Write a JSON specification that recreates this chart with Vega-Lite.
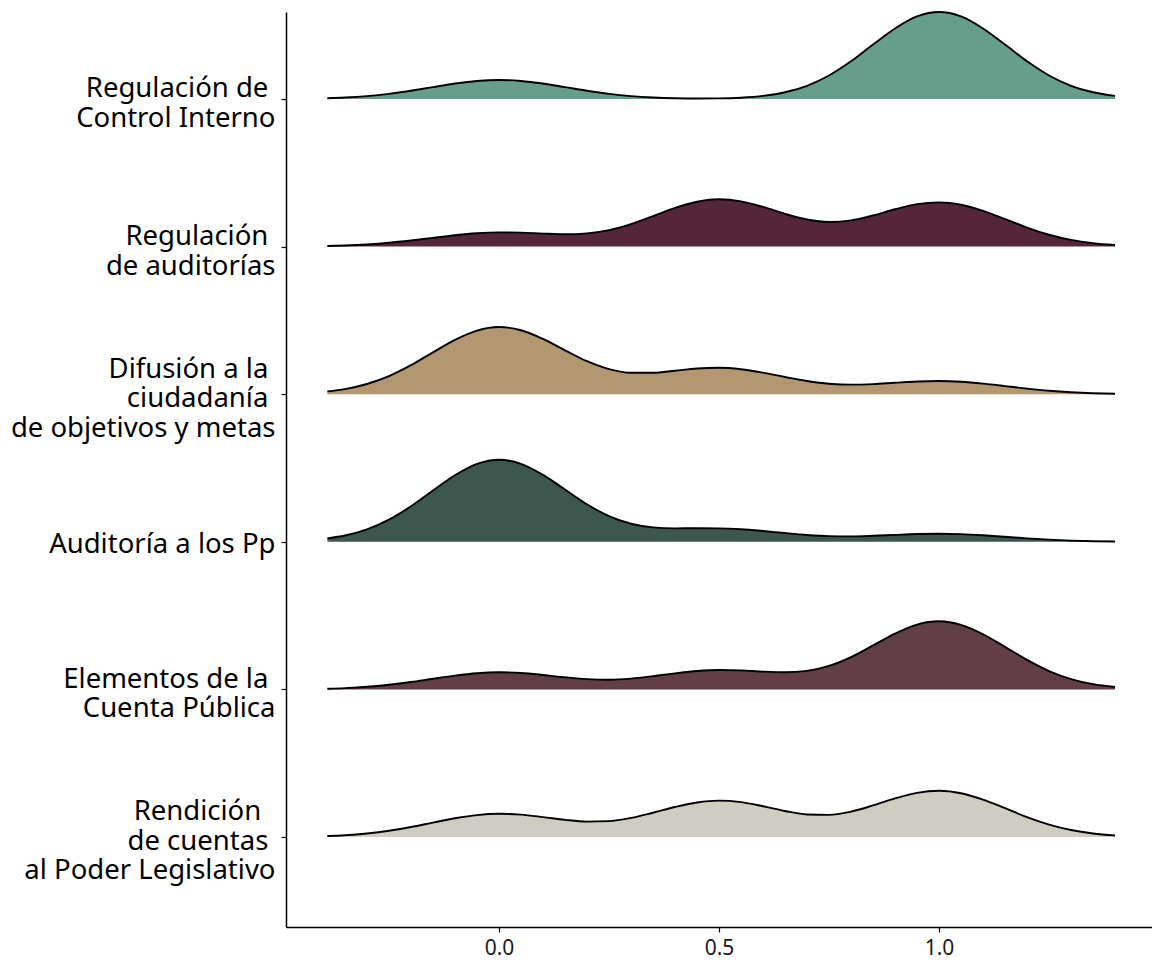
{
  "$schema": "https://vega.github.io/schema/vega-lite/v6.json",
  "width": 866,
  "height": 915,
  "autosize": {"type": "none"},
  "padding": {"left": 286, "top": 12, "right": 0, "bottom": 33},
  "background": "white",
  "config": {
    "font": "Noto Sans",
    "view": {"stroke": null},
    "axis": {"grid": false, "domainColor": "black", "domainWidth": 1.5, "tickColor": "black", "tickWidth": 1.2, "tickSize": 5, "labelColor": "black", "titleColor": "black"}
  },
  "datasets": {
    "cats": [
      {"cat": "Regulación de\u00a0\u2060\nControl Interno"},
      {"cat": "Regulación\u00a0\u2060\nde auditorías"},
      {"cat": "Difusión a la\u00a0\u2060\nciudadanía\u00a0\u2060\nde objetivos y metas"},
      {"cat": "Auditoría a los Pp"},
      {"cat": "Elementos de la\u00a0\u2060\nCuenta Pública"},
      {"cat": "Rendición\u00a0\u00a0\u2060\nde cuentas\u00a0\u2060\nal Poder Legislativo"}
    ],
    "r1": [
      {"x": -0.39, "density": 0.019}, {"x": -0.35, "density": 0.036}, {"x": -0.30, "density": 0.071}, {"x": -0.25, "density": 0.126}, {"x": -0.20, "density": 0.202}, {"x": -0.15, "density": 0.291}, {"x": -0.10, "density": 0.378}, {"x": -0.05, "density": 0.442}, {"x": 0.00, "density": 0.466}, {"x": 0.05, "density": 0.442}, {"x": 0.10, "density": 0.378}, {"x": 0.15, "density": 0.291}, {"x": 0.20, "density": 0.202}, {"x": 0.25, "density": 0.126}, {"x": 0.30, "density": 0.071}, {"x": 0.35, "density": 0.036}, {"x": 0.40, "density": 0.017}, {"x": 0.45, "density": 0.011}, {"x": 0.50, "density": 0.014}, {"x": 0.55, "density": 0.032}, {"x": 0.60, "density": 0.075}, {"x": 0.65, "density": 0.164}, {"x": 0.70, "density": 0.324}, {"x": 0.75, "density": 0.576}, {"x": 0.80, "density": 0.923}, {"x": 0.85, "density": 1.333}, {"x": 0.90, "density": 1.729}, {"x": 0.95, "density": 2.024}, {"x": 1.00, "density": 2.132}, {"x": 1.05, "density": 2.024}, {"x": 1.10, "density": 1.729}, {"x": 1.15, "density": 1.333}, {"x": 1.20, "density": 0.923}, {"x": 1.25, "density": 0.576}, {"x": 1.30, "density": 0.324}, {"x": 1.35, "density": 0.164}, {"x": 1.40, "density": 0.075}
    ],
    "r2": [
      {"x": -0.39, "density": 0.014}, {"x": -0.35, "density": 0.026}, {"x": -0.30, "density": 0.052}, {"x": -0.25, "density": 0.093}, {"x": -0.20, "density": 0.149}, {"x": -0.15, "density": 0.214}, {"x": -0.10, "density": 0.279}, {"x": -0.05, "density": 0.328}, {"x": 0.00, "density": 0.349}, {"x": 0.05, "density": 0.342}, {"x": 0.10, "density": 0.319}, {"x": 0.15, "density": 0.303}, {"x": 0.20, "density": 0.324}, {"x": 0.25, "density": 0.404}, {"x": 0.30, "density": 0.551}, {"x": 0.35, "density": 0.747}, {"x": 0.40, "density": 0.947}, {"x": 0.45, "density": 1.100}, {"x": 0.50, "density": 1.160}, {"x": 0.55, "density": 1.110}, {"x": 0.60, "density": 0.972}, {"x": 0.65, "density": 0.803}, {"x": 0.70, "density": 0.663}, {"x": 0.75, "density": 0.602}, {"x": 0.80, "density": 0.642}, {"x": 0.85, "density": 0.763}, {"x": 0.90, "density": 0.915}, {"x": 0.95, "density": 1.040}, {"x": 1.00, "density": 1.085}, {"x": 1.05, "density": 1.026}, {"x": 1.10, "density": 0.875}, {"x": 1.15, "density": 0.674}, {"x": 1.20, "density": 0.467}, {"x": 1.25, "density": 0.291}, {"x": 1.30, "density": 0.164}, {"x": 1.35, "density": 0.083}, {"x": 1.40, "density": 0.038}
    ],
    "r3": [
      {"x": -0.39, "density": 0.068}, {"x": -0.35, "density": 0.126}, {"x": -0.30, "density": 0.250}, {"x": -0.25, "density": 0.443}, {"x": -0.20, "density": 0.711}, {"x": -0.15, "density": 1.026}, {"x": -0.10, "density": 1.332}, {"x": -0.05, "density": 1.560}, {"x": 0.00, "density": 1.646}, {"x": 0.05, "density": 1.568}, {"x": 0.10, "density": 1.354}, {"x": 0.15, "density": 1.076}, {"x": 0.20, "density": 0.808}, {"x": 0.25, "density": 0.615}, {"x": 0.30, "density": 0.525}, {"x": 0.35, "density": 0.525}, {"x": 0.40, "density": 0.575}, {"x": 0.45, "density": 0.629}, {"x": 0.50, "density": 0.648}, {"x": 0.55, "density": 0.612}, {"x": 0.60, "density": 0.529}, {"x": 0.65, "density": 0.423}, {"x": 0.70, "density": 0.325}, {"x": 0.75, "density": 0.258}, {"x": 0.80, "density": 0.235}, {"x": 0.85, "density": 0.248}, {"x": 0.90, "density": 0.281}, {"x": 0.95, "density": 0.312}, {"x": 1.00, "density": 0.322}, {"x": 1.05, "density": 0.304}, {"x": 1.10, "density": 0.259}, {"x": 1.15, "density": 0.199}, {"x": 1.20, "density": 0.138}, {"x": 1.25, "density": 0.086}, {"x": 1.30, "density": 0.049}, {"x": 1.35, "density": 0.025}, {"x": 1.40, "density": 0.011}
    ],
    "r4": [
      {"x": -0.39, "density": 0.083}, {"x": -0.35, "density": 0.155}, {"x": -0.30, "density": 0.305}, {"x": -0.25, "density": 0.543}, {"x": -0.20, "density": 0.870}, {"x": -0.15, "density": 1.256}, {"x": -0.10, "density": 1.630}, {"x": -0.05, "density": 1.908}, {"x": 0.00, "density": 2.012}, {"x": 0.05, "density": 1.912}, {"x": 0.10, "density": 1.641}, {"x": 0.15, "density": 1.281}, {"x": 0.20, "density": 0.919}, {"x": 0.25, "density": 0.629}, {"x": 0.30, "density": 0.443}, {"x": 0.35, "density": 0.354}, {"x": 0.40, "density": 0.329}, {"x": 0.45, "density": 0.332}, {"x": 0.50, "density": 0.330}, {"x": 0.55, "density": 0.309}, {"x": 0.60, "density": 0.266}, {"x": 0.65, "density": 0.214}, {"x": 0.70, "density": 0.168}, {"x": 0.75, "density": 0.139}, {"x": 0.80, "density": 0.133}, {"x": 0.85, "density": 0.147}, {"x": 0.90, "density": 0.170}, {"x": 0.95, "density": 0.191}, {"x": 1.00, "density": 0.198}, {"x": 1.05, "density": 0.187}, {"x": 1.10, "density": 0.159}, {"x": 1.15, "density": 0.123}, {"x": 1.20, "density": 0.085}, {"x": 1.25, "density": 0.053}, {"x": 1.30, "density": 0.030}, {"x": 1.35, "density": 0.015}, {"x": 1.40, "density": 0.007}
    ],
    "r5": [
      {"x": -0.39, "density": 0.017}, {"x": -0.35, "density": 0.032}, {"x": -0.30, "density": 0.063}, {"x": -0.25, "density": 0.113}, {"x": -0.20, "density": 0.180}, {"x": -0.15, "density": 0.261}, {"x": -0.10, "density": 0.338}, {"x": -0.05, "density": 0.396}, {"x": 0.00, "density": 0.419}, {"x": 0.05, "density": 0.402}, {"x": 0.10, "density": 0.354}, {"x": 0.15, "density": 0.296}, {"x": 0.20, "density": 0.251}, {"x": 0.25, "density": 0.238}, {"x": 0.30, "density": 0.265}, {"x": 0.35, "density": 0.324}, {"x": 0.40, "density": 0.393}, {"x": 0.45, "density": 0.451}, {"x": 0.50, "density": 0.477}, {"x": 0.55, "density": 0.467}, {"x": 0.60, "density": 0.436}, {"x": 0.65, "density": 0.420}, {"x": 0.70, "density": 0.455}, {"x": 0.75, "density": 0.576}, {"x": 0.80, "density": 0.792}, {"x": 0.85, "density": 1.077}, {"x": 0.90, "density": 1.368}, {"x": 0.95, "density": 1.589}, {"x": 1.00, "density": 1.669}, {"x": 1.05, "density": 1.582}, {"x": 1.10, "density": 1.352}, {"x": 1.15, "density": 1.042}, {"x": 1.20, "density": 0.722}, {"x": 1.25, "density": 0.450}, {"x": 1.30, "density": 0.253}, {"x": 1.35, "density": 0.128}, {"x": 1.40, "density": 0.058}
    ],
    "r6": [
      {"x": -0.39, "density": 0.023}, {"x": -0.35, "density": 0.043}, {"x": -0.30, "density": 0.086}, {"x": -0.25, "density": 0.152}, {"x": -0.20, "density": 0.244}, {"x": -0.15, "density": 0.352}, {"x": -0.10, "density": 0.458}, {"x": -0.05, "density": 0.537}, {"x": 0.00, "density": 0.568}, {"x": 0.05, "density": 0.548}, {"x": 0.10, "density": 0.488}, {"x": 0.15, "density": 0.420}, {"x": 0.20, "density": 0.378}, {"x": 0.25, "density": 0.390}, {"x": 0.30, "density": 0.468}, {"x": 0.35, "density": 0.595}, {"x": 0.40, "density": 0.736}, {"x": 0.45, "density": 0.847}, {"x": 0.50, "density": 0.891}, {"x": 0.55, "density": 0.855}, {"x": 0.60, "density": 0.755}, {"x": 0.65, "density": 0.638}, {"x": 0.70, "density": 0.553}, {"x": 0.75, "density": 0.543}, {"x": 0.80, "density": 0.622}, {"x": 0.85, "density": 0.773}, {"x": 0.90, "density": 0.945}, {"x": 0.95, "density": 1.083}, {"x": 1.00, "density": 1.132}, {"x": 1.05, "density": 1.071}, {"x": 1.10, "density": 0.915}, {"x": 1.15, "density": 0.705}, {"x": 1.20, "density": 0.488}, {"x": 1.25, "density": 0.304}, {"x": 1.30, "density": 0.171}, {"x": 1.35, "density": 0.087}, {"x": 1.40, "density": 0.039}
    ]
  },
  "layer": [
    {
      "data": {"name": "cats"},
      "mark": {"type": "point", "opacity": 0},
      "encoding": {
        "x": {"value": 0},
        "y": {
          "field": "cat", "type": "nominal", "sort": null,
          "scale": {"type": "point", "padding": 0.5996, "align": 0.4915},
          "axis": {
            "title": null,
            "labelExpr": "split(datum.value, '\\n')",
            "labelFontSize": 27.5,
            "labelLineHeight": 29.5,
            "labelAlign": "right",
            "labelBaseline": "middle",
            "labelPadding": 6,
            "labelLimit": 400,
            "labelOffset": {
              "condition": [
                {"test": "length(split(datum.value, '\\n')) >= 3", "value": -25},
                {"test": "length(split(datum.value, '\\n')) == 2", "value": -10}
              ],
              "value": 3
            }
          }
        }
      }
    },
    {
      "data": {"name": "r1"},
      "encoding": {
        "x": {"field": "x", "type": "quantitative", "scale": {"domain": [-0.484, 1.484], "nice": false, "zero": false}, "axis": {"title": null, "values": [0, 0.5, 1], "format": ".1f", "labelFontSize": 21, "labelPadding": 5, "labelColor": "#1a1a1a"}},
        "y": {"field": "density", "type": "quantitative", "scale": {"domain": [-20.294, 2.132], "nice": false, "zero": false}, "axis": null}
      },
      "layer": [
        {"mark": {"type": "area", "color": "#669E8C", "opacity": 1, "interpolate": "monotone"}, "encoding": {"y2": {"datum": 0}}},
        {"mark": {"type": "line", "color": "black", "strokeWidth": 1.9, "interpolate": "monotone"}, "encoding": {}}
      ]
    },
    {
      "data": {"name": "r2"},
      "encoding": {
        "x": {"field": "x", "type": "quantitative"},
        "y": {"field": "density", "type": "quantitative", "scale": {"domain": [-16.676, 5.750], "nice": false, "zero": false}, "axis": null}
      },
      "layer": [
        {"mark": {"type": "area", "color": "#55263A", "opacity": 1, "interpolate": "monotone"}, "encoding": {"y2": {"datum": 0}}},
        {"mark": {"type": "line", "color": "black", "strokeWidth": 1.9, "interpolate": "monotone"}, "encoding": {}}
      ]
    },
    {
      "data": {"name": "r3"},
      "encoding": {
        "x": {"field": "x", "type": "quantitative"},
        "y": {"field": "density", "type": "quantitative", "scale": {"domain": [-13.059, 9.368], "nice": false, "zero": false}, "axis": null}
      },
      "layer": [
        {"mark": {"type": "area", "color": "#B39770", "opacity": 1, "interpolate": "monotone"}, "encoding": {"y2": {"datum": 0}}},
        {"mark": {"type": "line", "color": "black", "strokeWidth": 1.9, "interpolate": "monotone"}, "encoding": {}}
      ]
    },
    {
      "data": {"name": "r4"},
      "encoding": {
        "x": {"field": "x", "type": "quantitative"},
        "y": {"field": "density", "type": "quantitative", "scale": {"domain": [-9.441, 12.985], "nice": false, "zero": false}, "axis": null}
      },
      "layer": [
        {"mark": {"type": "area", "color": "#3C574E", "opacity": 1, "interpolate": "monotone"}, "encoding": {"y2": {"datum": 0}}},
        {"mark": {"type": "line", "color": "black", "strokeWidth": 1.9, "interpolate": "monotone"}, "encoding": {}}
      ]
    },
    {
      "data": {"name": "r5"},
      "encoding": {
        "x": {"field": "x", "type": "quantitative"},
        "y": {"field": "density", "type": "quantitative", "scale": {"domain": [-5.824, 16.603], "nice": false, "zero": false}, "axis": null}
      },
      "layer": [
        {"mark": {"type": "area", "color": "#623E47", "opacity": 1, "interpolate": "monotone"}, "encoding": {"y2": {"datum": 0}}},
        {"mark": {"type": "line", "color": "black", "strokeWidth": 1.9, "interpolate": "monotone"}, "encoding": {}}
      ]
    },
    {
      "data": {"name": "r6"},
      "encoding": {
        "x": {"field": "x", "type": "quantitative"},
        "y": {"field": "density", "type": "quantitative", "scale": {"domain": [-2.206, 20.221], "nice": false, "zero": false}, "axis": null}
      },
      "layer": [
        {"mark": {"type": "area", "color": "#CFCCC1", "opacity": 1, "interpolate": "monotone"}, "encoding": {"y2": {"datum": 0}}},
        {"mark": {"type": "line", "color": "black", "strokeWidth": 1.9, "interpolate": "monotone"}, "encoding": {}}
      ]
    }
  ],
  "resolve": {"scale": {"y": "independent"}}
}
